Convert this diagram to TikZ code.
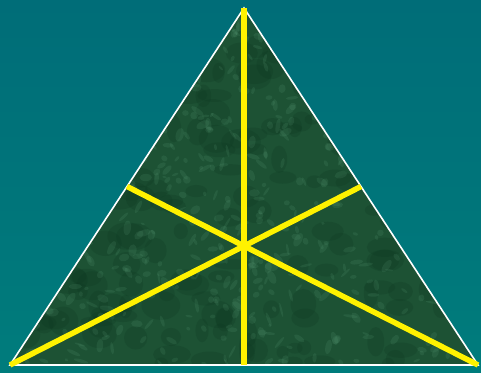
\documentclass[tikz,border=0pt]{standalone}
\usetikzlibrary{calc}
\definecolor{tealtop}{HTML}{006D78}
\definecolor{tealbot}{HTML}{007C7C}
\definecolor{marble}{HTML}{1D5234}
\definecolor{marblelight}{HTML}{6CB08A}
\definecolor{marbledark}{HTML}{0C3620}
\tikzset{
  median/.style={draw=yellow, line width=5.5pt},
  edge/.style={draw=white, line width=1.6pt, line join=miter}
}
\begin{document}
\begin{tikzpicture}[x=1pt,y=-1pt]
\shade[top color=tealtop, bottom color=tealbot] (0,0) rectangle (481,372);
\useasboundingbox (0,0) rectangle (481,372);
\coordinate (A) at (244,8);
\coordinate (B) at (10,365);
\coordinate (C) at (478,365);
\coordinate (MAB) at ($(A)!0.5!(B)$);
\coordinate (MAC) at ($(A)!0.5!(C)$);
\coordinate (MBC) at (244,365);
\fill[marble] (A) -- (B) -- (C) -- cycle;
\begin{scope}
\clip (A) -- (B) -- (C) -- cycle;
\pgfmathsetseed{7}
\foreach \i in {1,...,200} {
  \pgfmathsetmacro{\px}{10+468*rnd}
  \pgfmathsetmacro{\py}{8+357*rnd}
  \pgfmathsetmacro{\rx}{6+14*rnd}
  \pgfmathsetmacro{\ry}{5+10*rnd}
  \fill[marbledark, opacity=0.22] (\px,\py) ellipse [x radius=\rx, y radius=\ry];
}
\foreach \i in {1,...,700} {
  \pgfmathsetmacro{\px}{10+468*rnd}
  \pgfmathsetmacro{\py}{8+357*rnd}
  \pgfmathsetmacro{\rx}{1.5+6*rnd}
  \pgfmathsetmacro{\ry}{1+3*rnd}
  \pgfmathsetmacro{\ang}{360*rnd}
  \fill[marblelight, opacity=0.13, rotate around={\ang:(\px,\py)}] (\px,\py) ellipse [x radius=\rx, y radius=\ry];
}
\end{scope}
\draw[edge] (A) -- (B) -- (C) -- cycle;
\draw[median] (A) -- (MBC);
\draw[median] (B) -- (MAC);
\draw[median] (C) -- (MAB);
\end{tikzpicture}
\end{document}
